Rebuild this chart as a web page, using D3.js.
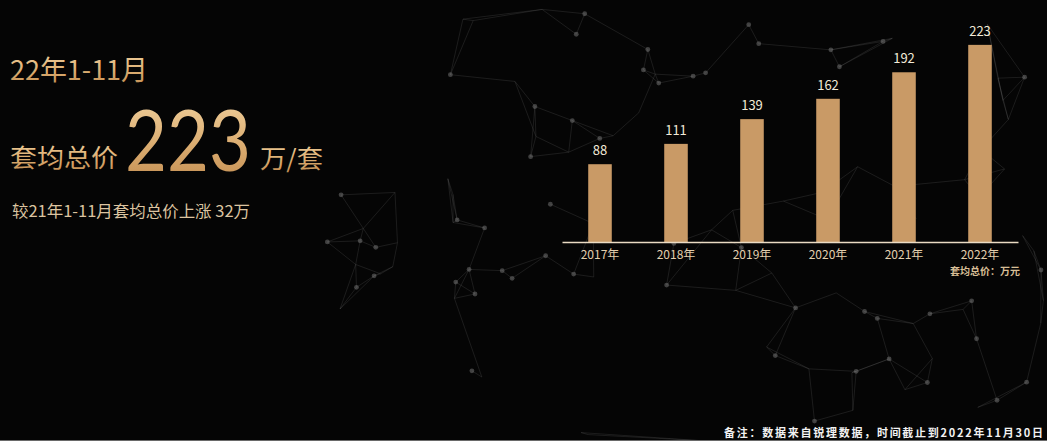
<!DOCTYPE html>
<html>
<head>
<meta charset="utf-8">
<script src="https://cdn.jsdelivr.net/npm/d3@7"></script>
<style>
  html, body { margin: 0; padding: 0; background: #050505; }
  svg { display: block; }
</style>
</head>
<body>
<svg id="mainsvg" width="1047" height="441"></svg>
<script>
// data
const years = ['2017年', '2018年', '2019年', '2020年', '2021年', '2022年'];
const avgPrice = [88, 111, 139, 162, 192, 223];
const yoyRise = 32;
const unitLabel = '套均总价：万元';
const footNote = '备注：数据来自锐理数据，时间截止到2022年11月30日';

const svg = d3.select('#mainsvg');
const width = +svg.attr('width');
const height = +svg.attr('height');
const cjk = '"Noto Sans CJK SC", "Noto Sans", sans-serif';

svg.append('rect').attr('width', width).attr('height', height).attr('fill', '#050505');

const defs = svg.append('defs');
const grad = defs.append('linearGradient').attr('id', 'gold')
    .attr('x1', 0).attr('y1', 0).attr('x2', 0).attr('y2', 1);
grad.append('stop').attr('offset', '0%').attr('stop-color', '#f4d7a6');
grad.append('stop').attr('offset', '55%').attr('stop-color', '#dcae72');
grad.append('stop').attr('offset', '100%').attr('stop-color', '#c08a4e');

// background network (decoration only)
function mulberry32(a) {
    return function() {
        a |= 0; a = a + 0x6D2B79F5 | 0;
        let t = Math.imul(a ^ a >>> 15, 1 | a);
        t = t + Math.imul(t ^ t >>> 7, 61 | t) ^ t;
        return ((t ^ t >>> 14) >>> 0) / 4294967296;
    }
}
const rnd = mulberry32(20221130);
const nodes = [];
for (let i = 0; i < 95; i++) nodes.push([440 + rnd() * 610, rnd() * height]);
for (let i = 0; i < 16; i++) nodes.push([320 + rnd() * 160, 190 + rnd() * 150]);
const edges = [];
nodes.forEach((a, i) => {
    const near = nodes.map((b, j) => [j, Math.hypot(a[0] - b[0], a[1] - b[1])])
        .filter(d => d[0] !== i && d[1] < 140)
        .sort((p, q) => p[1] - q[1]).slice(0, 3);
    near.forEach(d => { if (d[0] > i) edges.push([a, nodes[d[0]]]); });
});
const bg = svg.append('g').attr('id', 'bg');
bg.selectAll('line').data(edges).enter().append('line')
    .attr('x1', d => d[0][0]).attr('y1', d => d[0][1])
    .attr('x2', d => d[1][0]).attr('y2', d => d[1][1])
    .attr('stroke', '#8a8a8a').attr('stroke-opacity', 0.22).attr('stroke-width', 0.8);
bg.selectAll('circle').data(nodes.filter((d, i) => i % 2 === 0)).enter().append('circle')
    .attr('cx', d => d[0]).attr('cy', d => d[1]).attr('r', 2.4)
    .attr('fill', '#7c7c7c').attr('fill-opacity', 0.5);

// headline texts
svg.append('text').attr('x', 10).attr('y', 80)
    .attr('font-family', cjk).attr('font-size', 27).attr('fill', 'url(#gold)')
    .attr('textLength', 138).attr('lengthAdjust', 'spacingAndGlyphs')
    .text('22年1-11月');
svg.append('text').attr('x', 10).attr('y', 167)
    .attr('font-family', cjk).attr('font-size', 25).attr('fill', 'url(#gold)')
    .attr('textLength', 108).attr('lengthAdjust', 'spacingAndGlyphs')
    .text('套均总价');
// big number, squeezed horizontally to the narrow face of the original
const big = svg.append('text').attr('x', 0).attr('y', 0)
    .attr('font-family', 'Lato, Roboto, sans-serif').attr('font-weight', 400)
    .attr('font-size', 86).attr('fill', 'url(#gold)')
    .text(avgPrice[avgPrice.length - 1]);
const bigW = big.node().getComputedTextLength();
big.attr('transform', `translate(125,171) scale(${126 / bigW},1)`);
svg.append('text').attr('x', 260).attr('y', 168)
    .attr('font-family', cjk).attr('font-size', 25).attr('fill', 'url(#gold)')
    .attr('textLength', 63).attr('lengthAdjust', 'spacingAndGlyphs')
    .text('万/套');
svg.append('text').attr('x', 12).attr('y', 217)
    .attr('font-family', cjk).attr('font-size', 16).attr('fill', '#dcc4a0')
    .attr('textLength', 238).attr('lengthAdjust', 'spacingAndGlyphs')
    .text(`较21年1-11月套均总价上涨 ${yoyRise}万`);

// bar chart
const x = d3.scaleBand().domain(years).range([562, 1018])
    .paddingInner(0.69).paddingOuter(0.345);
const y = d3.scaleLinear().domain([0, 250]).range([242, 21]);

const g = svg.append('g').attr('id', 'maingroup');
g.selectAll('rect').data(avgPrice).enter().append('rect')
    .attr('x', (d, i) => x(years[i]))
    .attr('y', d => y(d))
    .attr('width', x.bandwidth())
    .attr('height', d => y(0) - y(d))
    .attr('fill', '#c99a66');

g.selectAll('.val').data(avgPrice).enter().append('text')
    .attr('class', 'val')
    .attr('x', (d, i) => x(years[i]) + x.bandwidth() / 2)
    .attr('y', d => y(d) - 9)
    .attr('text-anchor', 'middle')
    .attr('font-family', cjk).attr('font-size', 13).attr('fill', '#f2ead8')
    .text(d => d);

const xAxis = d3.axisBottom(x).tickSize(0).tickPadding(8);
const axisG = g.append('g').attr('transform', `translate(0,${y(0)})`).call(xAxis);
axisG.select('.domain').attr('stroke', '#eadbc4').attr('stroke-width', 1.5);
axisG.selectAll('text').attr('font-family', cjk).attr('font-size', 12)
    .attr('fill', '#e3cfae');

g.append('text').attr('x', 1020).attr('y', 275).attr('text-anchor', 'end')
    .attr('font-family', cjk).attr('font-size', 10).attr('font-weight', 'bold')
    .attr('fill', '#d8bf96').text(unitLabel);

// footnote
svg.append('text').attr('x', 724).attr('y', 437)
    .attr('font-family', cjk).attr('font-size', 11).attr('font-weight', 'bold')
    .attr('fill', '#f2f2f2')
    .attr('textLength', 319).attr('lengthAdjust', 'spacing')
    .text(footNote);
svg.append('line').attr('x1', 0).attr('x2', width).attr('y1', 440.5).attr('y2', 440.5)
    .attr('stroke', '#6a6a6a').attr('stroke-width', 1);
</script>
</body>
</html>
